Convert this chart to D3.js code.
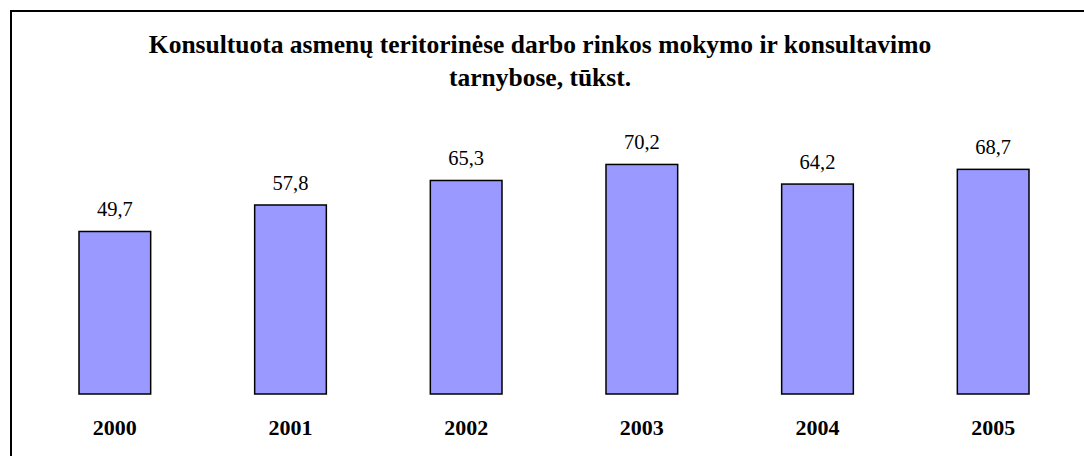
<!DOCTYPE html>
<html>
<head>
<meta charset="utf-8">
<script src="https://cdn.jsdelivr.net/npm/d3@7"></script>
<style>
  html, body { margin: 0; padding: 0; background: #fff; }
  svg { display: block; }
</style>
</head>
<body>
<svg id="chart" width="1084" height="456"></svg>
<script>
const categories = ["2000", "2001", "2002", "2003", "2004", "2005"];
const values = [49.7, 57.8, 65.3, 70.2, 64.2, 68.7];
const titleLines = [
  "Konsultuota asmenų teritorinėse darbo rinkos mokymo ir konsultavimo",
  "tarnybose, tūkst."
];
const fmt = v => d3.format(".1f")(v).replace(".", ",");

const svg = d3.select("#chart");
const W = 1084, H = 456;

// outer frame (extends beyond the visible crop at right and bottom)
svg.append("rect")
  .attr("x", 11).attr("y", 11)
  .attr("width", W + 40).attr("height", H + 40)
  .attr("fill", "#fff").attr("stroke", "#000").attr("stroke-width", 2);

const x = d3.scaleBand()
  .domain(categories)
  .range([27, 1081])
  .paddingInner(0.592)
  .paddingOuter(0.296);

const y = d3.scaleLinear().domain([0, 80]).range([394, 132.4]);

// title
svg.append("g").selectAll("text")
  .data(titleLines)
  .join("text")
  .attr("x", 540)
  .attr("y", (d, i) => 53 + i * 33)
  .attr("text-anchor", "middle")
  .attr("font-family", "'Liberation Serif', 'Times New Roman', serif")
  .attr("font-weight", "bold")
  .attr("font-size", 25.5)
  .attr("fill", "#000")
  .text(d => d);

// bars
svg.append("g").selectAll("rect")
  .data(values)
  .join("rect")
  .attr("x", (d, i) => x(categories[i]))
  .attr("y", d => y(d))
  .attr("width", x.bandwidth())
  .attr("height", d => y(0) - y(d))
  .attr("fill", "#9999FF")
  .attr("stroke", "#000")
  .attr("stroke-width", 1.5);

// value labels
svg.append("g").selectAll("text")
  .data(values)
  .join("text")
  .attr("x", (d, i) => x(categories[i]) + x.bandwidth() / 2)
  .attr("y", d => y(d) - 15)
  .attr("text-anchor", "middle")
  .attr("font-family", "'Liberation Serif', 'Times New Roman', serif")
  .attr("font-size", 20.5)
  .attr("fill", "#000")
  .text(d => fmt(d));

// category axis labels (no axis line)
const xAxis = d3.axisBottom(x).tickSize(0).tickPadding(0);
const gx = svg.append("g")
  .attr("transform", `translate(0, ${y(0) + 41})`)
  .call(xAxis);
gx.select(".domain").remove();
gx.selectAll("text")
  .attr("dy", 0)
  .attr("font-family", "'Liberation Serif', 'Times New Roman', serif")
  .attr("font-weight", "bold")
  .attr("font-size", 22)
  .attr("fill", "#000");
</script>
</body>
</html>
